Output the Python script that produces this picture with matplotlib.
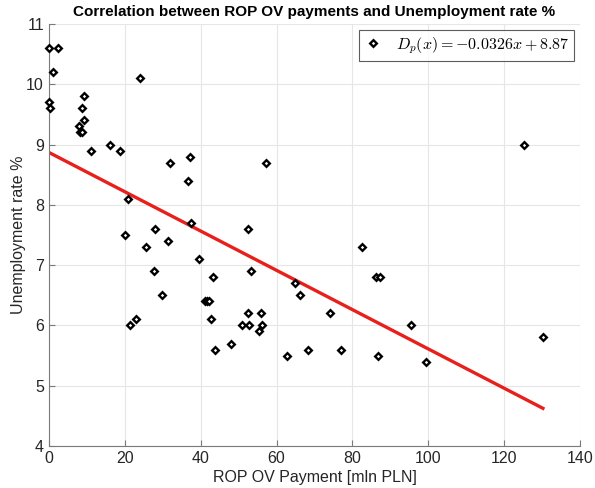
"""Scatter of ROP OV payments vs unemployment rate with linear fit."""

import matplotlib

matplotlib.use("Agg")
import matplotlib.pyplot as plt
import numpy as np

# payments [mln PLN]
payment = [
    0.0, 2.4, 1.1, 0.0, 0.3, 9.2, 8.7, 9.4, 7.9, 8.2, 8.8, 11.0, 16.1, 18.8, 24.1,
    20.9, 20.2, 28.1, 25.7, 31.5, 37.4, 32.0, 37.1, 36.7, 39.5, 27.6, 29.9, 43.3,
    41.2, 41.7, 42.2, 42.7, 23.0, 21.3, 43.9, 48.1, 57.3, 52.6, 53.3, 52.4, 55.9,
    50.9, 52.7, 56.2, 55.3, 64.8, 66.3, 62.8, 68.4, 74.0, 82.4, 86.1, 87.4, 95.5,
    77.0, 86.7, 99.3, 130.2, 125.1,
]
unemployment = [
    10.6, 10.6, 10.2, 9.7, 9.6, 9.8, 9.6, 9.4, 9.3, 9.2, 9.2, 8.9, 9.0, 8.9, 10.1,
    8.1, 7.5, 7.6, 7.3, 7.4, 7.7, 8.7, 8.8, 8.4, 7.1, 6.9, 6.5, 6.8,
    6.4, 6.4, 6.4, 6.1, 6.1, 6.0, 5.6, 5.7, 8.7, 7.6, 6.9, 6.2, 6.2,
    6.0, 6.0, 6.0, 5.9, 6.7, 6.5, 5.5, 5.6, 6.2, 7.3, 6.8, 6.8, 6.0,
    5.6, 5.5, 5.4, 5.8, 9.0,
]
slope = -0.0326
intercept = 8.87

plt.rcParams["font.family"] = ["Liberation Sans", "DejaVu Sans"]
plt.rcParams["mathtext.fontset"] = "cm"

fig = plt.figure(figsize=(5.95, 4.88), dpi=100)
ax = fig.add_axes([0.082, 0.086, 0.893, 0.865])

ax.plot(payment, unemployment, linestyle="none", marker="D", markersize=3.4,
        markerfacecolor="white", markeredgecolor="black", markeredgewidth=1.7,
        label=r"$D_p(x) = -0.0326x + 8.87$", clip_on=False, zorder=3)
fit_x = np.array([0.0, max(payment)])
ax.plot(fit_x, slope * fit_x + intercept, color="#e8201c", linewidth=2.4)

ax.set_xlim(0, 140)
ax.set_ylim(4, 11)
ax.set_xticks(range(0, 141, 20))
ax.set_yticks(range(4, 12))
ax.grid(True, color="#e6e6e6", linewidth=0.8)
ax.set_axisbelow(True)
for side in ("top", "right"):
    ax.spines[side].set_visible(False)
for side in ("left", "bottom"):
    ax.spines[side].set_color("#7a7a7a")
ax.tick_params(direction="in", length=4, color="#7a7a7a", labelsize=11.5,
               labelcolor="#262626")

ax.set_xlabel("ROP OV Payment [mln PLN]", fontsize=11.5, color="#262626", labelpad=3)
ax.set_ylabel("Unemployment rate %", fontsize=11.5, color="#262626", labelpad=0)
ax.set_title("Correlation between ROP OV payments and Unemployment rate %",
             fontsize=11, fontweight="bold", pad=6)

leg = ax.legend(loc="upper right", fontsize=11.5, frameon=True, fancybox=False,
                handlelength=1.2, borderaxespad=0.4, borderpad=0.3)
leg.get_frame().set_edgecolor("#333333")
leg.get_frame().set_linewidth(0.8)

fig.savefig("out.png", dpi=100)
